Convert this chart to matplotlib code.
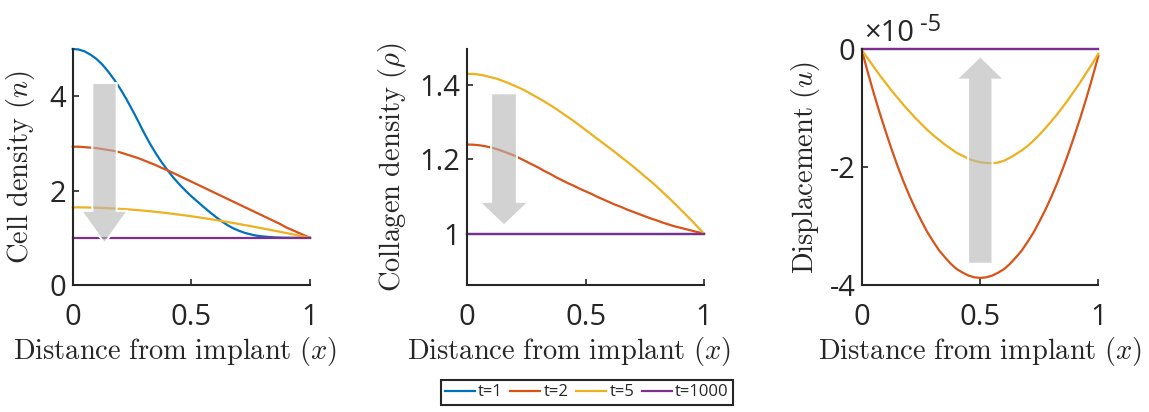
import numpy as np
import matplotlib
matplotlib.use("Agg")
import matplotlib.pyplot as plt
from matplotlib.patches import FancyArrow

plt.rcParams['font.family'] = ['Open Sans', 'DejaVu Sans']
plt.rcParams['mathtext.fontset'] = 'cm'

# Spatial grid (distance from implant), step 0.025
x = [0.000, 0.025, 0.050, 0.075, 0.100, 0.125, 0.150, 0.175, 0.200, 0.225,
     0.250, 0.275, 0.300, 0.325, 0.350, 0.375, 0.400, 0.425, 0.450, 0.475,
     0.500, 0.525, 0.550, 0.575, 0.600, 0.625, 0.650, 0.675, 0.700, 0.725,
     0.750, 0.775, 0.800, 0.825, 0.850, 0.875, 0.900, 0.925, 0.950, 0.975, 1.000]

series_labels = ['t=1', 't=2', 't=5', 't=1000']
series_colors = ['#0072BD', '#D95319', '#EDB120', '#7E2F8E']

# Cell density n(x)
cell_t1 = [5.00, 4.99, 4.95, 4.88, 4.79, 4.67, 4.52, 4.35, 4.16, 3.95,
           3.72, 3.48, 3.23, 3.00, 2.79, 2.60, 2.43, 2.27, 2.13, 2.00,
           1.88, 1.77, 1.66, 1.555, 1.455, 1.36, 1.275, 1.205, 1.15, 1.105,
           1.072, 1.045, 1.03, 1.018, 1.01, 1.005, 1.002, 1.00, 1.00, 1.00, 1.00]
cell_t2 = [2.93, 2.93, 2.92, 2.91, 2.90, 2.88, 2.86, 2.84, 2.81, 2.77,
           2.73, 2.69, 2.64, 2.59, 2.54, 2.48, 2.43, 2.37, 2.31, 2.25,
           2.19, 2.13, 2.07, 2.01, 1.95, 1.89, 1.83, 1.77, 1.71, 1.65,
           1.59, 1.53, 1.47, 1.41, 1.35, 1.29, 1.22, 1.165, 1.11, 1.055, 1.00]
cell_t5 = [1.645, 1.645, 1.643, 1.640, 1.637, 1.633, 1.627, 1.620, 1.613, 1.605,
           1.596, 1.586, 1.575, 1.563, 1.550, 1.536, 1.522, 1.506, 1.490, 1.473,
           1.456, 1.438, 1.419, 1.399, 1.379, 1.358, 1.337, 1.315, 1.293, 1.270,
           1.247, 1.223, 1.199, 1.175, 1.150, 1.126, 1.101, 1.076, 1.050, 1.025, 1.000]
cell_t1000 = [1.0] * 41

# Collagen density rho(x)
col_t1 = [1.0] * 41
col_t2 = [1.240, 1.2395, 1.238, 1.2355, 1.232, 1.2275, 1.222, 1.216, 1.210, 1.202,
          1.194, 1.186, 1.178, 1.169, 1.161, 1.152, 1.144, 1.136, 1.129, 1.121,
          1.114, 1.107, 1.099, 1.092, 1.085, 1.078, 1.072, 1.065, 1.059, 1.053,
          1.047, 1.041, 1.036, 1.030, 1.025, 1.020, 1.016, 1.012, 1.008, 1.004, 1.000]
col_t5 = [1.430, 1.430, 1.428, 1.425, 1.421, 1.417, 1.411, 1.405, 1.398, 1.391,
          1.383, 1.374, 1.365, 1.356, 1.346, 1.336, 1.325, 1.314, 1.303, 1.291,
          1.279, 1.267, 1.255, 1.243, 1.231, 1.219, 1.206, 1.194, 1.181, 1.168,
          1.154, 1.141, 1.127, 1.112, 1.097, 1.082, 1.066, 1.050, 1.034, 1.017, 1.000]
col_t1000 = [1.0] * 41

# Displacement u(x), in units of 1e-5
disp_t1 = [0.0] * 41
disp_t2 = [-0.05, -0.42, -0.77, -1.10, -1.41, -1.71, -1.99, -2.25, -2.49, -2.71,
           -2.91, -3.10, -3.26, -3.41, -3.53, -3.64, -3.73, -3.79, -3.84, -3.87,
           -3.88, -3.870, -3.841, -3.792, -3.733, -3.644, -3.536, -3.419, -3.271, -3.114,
           -2.928, -2.731, -2.515, -2.280, -2.024, -1.749, -1.455, -1.151, -0.827, -0.483, -0.12]
disp_t5 = [-0.03, -0.17, -0.31, -0.45, -0.58, -0.71, -0.83, -0.95, -1.06, -1.17,
           -1.27, -1.37, -1.46, -1.54, -1.62, -1.69, -1.76, -1.81, -1.86, -1.895,
           -1.92, -1.932, -1.935, -1.925, -1.895, -1.845, -1.785, -1.72, -1.645, -1.555,
           -1.455, -1.345, -1.23, -1.11, -0.98, -0.845, -0.70, -0.555, -0.40, -0.245, -0.08]
disp_t1000 = [0.0] * 41
disp_scale = 1e-5

cell_yticks = [0, 2, 4]
col_yticks = [1, 1.2, 1.4]
col_yticklabels = ['1', '1.2', '1.4']
disp_yticks = [-4, -2, 0]
xticks = [0, 0.5, 1]
xticklabels = ['0', '0.5', '1']

W, H = 1149, 412
fig = plt.figure(figsize=(W / 100, H / 100), dpi=100)

def px_axes(left, right, top, bottom):
    return fig.add_axes([left / W, 1 - bottom / H, (right - left) / W, (bottom - top) / H])

ax1 = px_axes(72.7, 310.0, 49.0, 285.0)
ax2 = px_axes(467.3, 704.0, 49.0, 285.0)
ax3 = px_axes(862.3, 1098.3, 49.0, 285.0)

axis_color = '#262626'
tick_size = 21
label_size = 20.5

def style(ax, ylabel, ylabel_x, xlabel_x):
    for s in ['top', 'right']:
        ax.spines[s].set_visible(False)
    for s in ['left', 'bottom']:
        ax.spines[s].set_color(axis_color)
        ax.spines[s].set_linewidth(1.5)
    ax.tick_params(direction='in', length=4, width=1.2, color=axis_color,
                   labelsize=tick_size, labelcolor=axis_color)
    ax.tick_params(axis='x', pad=13)
    ax.tick_params(axis='y', pad=5)
    ax.set_xlim(0, 1)
    ax.set_xticks(xticks)
    ax.set_xticklabels(xticklabels)
    ax.set_xlabel(r'$\mathrm{Distance\ from\ implant}\ (x)$', fontsize=label_size,
                  color=axis_color)
    ax.xaxis.set_label_coords(xlabel_x, -0.212)
    ax.set_ylabel(ylabel, fontsize=label_size, color=axis_color)
    ax.yaxis.set_label_coords(ylabel_x, 0.5)

def arrow(ax, xc, y0, y1, shaft_w, head_w, head_len):
    a = FancyArrow(xc, y0, 0, y1 - y0, width=shaft_w, head_width=head_w,
                   head_length=head_len, length_includes_head=True,
                   facecolor=(0.71, 0.71, 0.71, 0.6), edgecolor=(1, 1, 1, 1),
                   linewidth=1.5, zorder=5)
    ax.add_patch(a)

lw = 1.6

# Cell density
for ys, c, lab in zip([cell_t1, cell_t2, cell_t5, cell_t1000], series_colors, series_labels):
    ax1.plot(x, ys, color=c, lw=lw, label=lab, clip_on=False)
style(ax1, r'$\mathrm{Cell\ density}\ (n)$', -0.150, 0.432)
ax1.set_ylim(0, 5)
ax1.set_yticks(cell_yticks)
arrow(ax1, 0.134, 4.28, 0.88, 0.103, 0.196, 0.69)

# Collagen density
for ys, c, lab in zip([col_t1, col_t2, col_t5, col_t1000], series_colors, series_labels):
    ax2.plot(x, ys, color=c, lw=lw, label=lab, clip_on=False)
style(ax2, r'$\mathrm{Collagen\ density}\ (\rho)$', -0.246, 0.43)
ax2.set_ylim(0.862, 1.497)
ax2.set_yticks(col_yticks)
ax2.set_yticklabels(col_yticklabels)
arrow(ax2, 0.155, 1.378, 1.022, 0.109, 0.212, 0.064)

# Displacement
for ys, c, lab in zip([disp_t1, disp_t2, disp_t5, disp_t1000], series_colors, series_labels):
    ax3.plot(x, np.asarray(ys) * disp_scale, color=c, lw=lw, label=lab, clip_on=False)
style(ax3, r'$\mathrm{Displacement}\ (u)$', -0.172, 0.5)
ax3.set_ylim(-4 * disp_scale, 0)
ax3.set_yticks([v * disp_scale for v in disp_yticks])
ax3.set_yticklabels([str(v) for v in disp_yticks])
arrow(ax3, 0.5, -3.64 * disp_scale, -0.12 * disp_scale, 0.104, 0.205, 0.40 * disp_scale)

# Exponent multiplier for the displacement axis
fig.text(864 / W, 1 - 41 / H, '×10', fontsize=tick_size, color=axis_color,
         ha='left', va='baseline')
fig.text(920 / W, 1 - 31 / H, '-5', fontsize=17, color=axis_color,
         ha='left', va='baseline')

handles, labels = ax1.get_legend_handles_labels()
leg = fig.legend(handles, labels, loc='center', bbox_to_anchor=(586.7 / W, 1 - 392.5 / H),
                 ncol=4, fontsize=12, frameon=True, fancybox=False,
                 edgecolor=axis_color, framealpha=1, handlelength=1.8,
                 handletextpad=0.2, columnspacing=0.45, borderpad=0.25,
                 borderaxespad=0)
leg.get_frame().set_linewidth(1.5)
for t in leg.get_texts():
    t.set_color(axis_color)

fig.savefig('out.png', dpi=100)
